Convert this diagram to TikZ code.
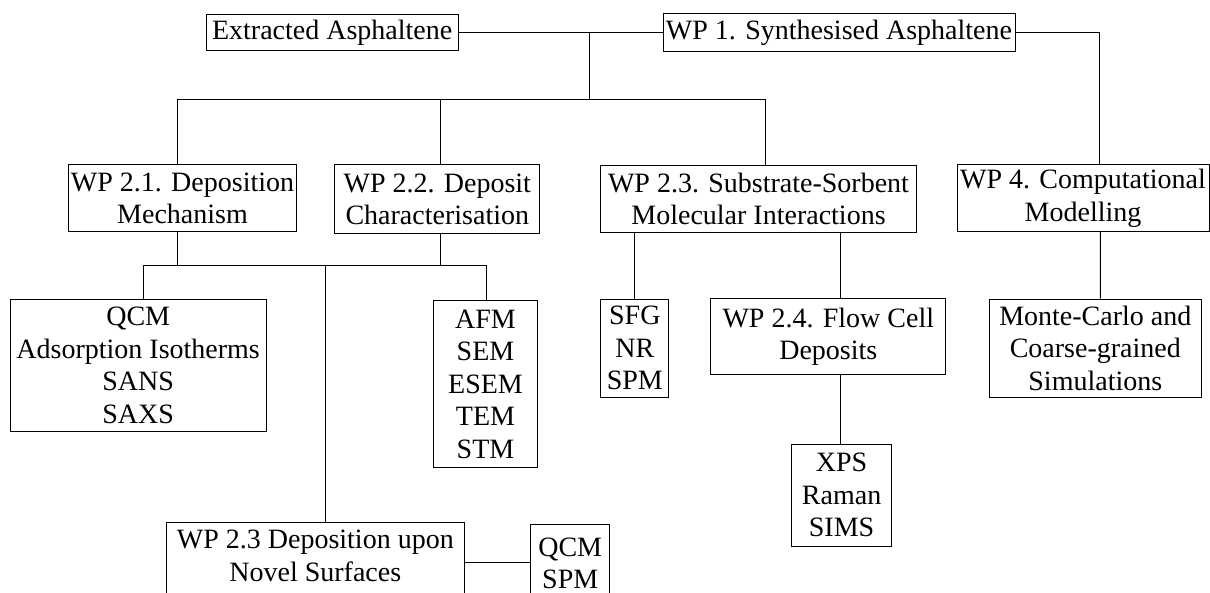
\documentclass[tikz,border=0pt]{standalone}
\usepackage{fontspec}
\setmainfont{Liberation Serif}
\begin{document}
\begin{tikzpicture}[x=1pt,y=-1pt,
  txt/.style={inner sep=0pt, align=center, font=\fontsize{28}{32.5}\selectfont},
  box/.style={txt, draw=black, line width=1pt},
  link/.style={draw=black, line width=1pt}]
\useasboundingbox (0,0) rectangle (1210,593);
\clip (0,0) rectangle (1210,593);
% nodes
\node[box, minimum width=251.6, minimum height=36] (ext) at (332.2,33) {Extracted Asphaltene};
\node[box, minimum width=352, minimum height=38.4] (wp1) at (839,32.5) {WP 1. Synthesised Asphaltene};
\node[box, minimum width=228.4, minimum height=67] (wp21) at (182.5,198.5) {WP 2.1. Deposition\\Mechanism};
\node[box, minimum width=204.7, minimum height=69] (wp22) at (437.3,199.5) {WP 2.2. Deposit\\Characterisation};
\node[box, minimum width=315.6, minimum height=67.3] (wp23s) at (758.5,198.7) {WP 2.3. Substrate-Sorbent\\Molecular Interactions};
\node[box, minimum width=252, minimum height=66.7] (wp4) at (1083,198.3) {WP 4. Computational\\Modelling};
\node[box, minimum width=255.6, minimum height=131] (qcm1) at (138.2,365.5) {QCM\\Adsorption Isotherms\\SANS\\SAXS};
\node[box, minimum width=103.8, minimum height=166.7] (afm) at (485.5,384.3) {AFM\\SEM\\ESEM\\TEM\\STM};
\node[box, minimum width=67.7, minimum height=98] (sfg) at (634.8,348.3) {SFG\\NR\\SPM};
\node[box, minimum width=234.7, minimum height=76] (wp24) at (828.3,337) {WP 2.4. Flow Cell\\Deposits};
\node[box, minimum width=100.7, minimum height=102] (xps) at (841.6,495) {XPS\\Raman\\SIMS};
\node[box, minimum width=211.4, minimum height=98.3] (mc) at (1095.3,348.2) {Monte-Carlo and\\Coarse-grained\\Simulations};
\node[txt, minimum width=297.3, minimum height=66] (wp23d) at (315.3,556) {WP 2.3 Deposition upon\\Novel Surfaces};
\draw[link] ([yshift=-15pt]wp23d.south west) -- (wp23d.north west) -- (wp23d.north east) -- ([yshift=-15pt]wp23d.south east);
\node[box, minimum width=78.5, minimum height=79] (qcm2) at (570.2,563.5) {QCM\\SPM};
% bend points
\coordinate (j1) at (589,33);
\coordinate (j2) at (589,99.3);
\coordinate (b21) at (177,99.3);
\coordinate (b22) at (440,99.3);
\coordinate (b23) at (765.5,99.3);
\coordinate (c4) at (1099.2,33);
\coordinate (d21) at (177,266);
\coordinate (d22) at (440,266);
\coordinate (dq) at (143,266);
\coordinate (dd) at (325,266);
\coordinate (da) at (486.5,266);
% connectors
\draw[link] (ext.east) -- (wp1.west |- ext.east);
\draw[link] (j1) -- (j2);
\draw[link] (b21) -- (b23);
\draw[link] (b21) -- (b21 |- wp21.north);
\draw[link] (b22) -- (b22 |- wp22.north);
\draw[link] (b23) -- (b23 |- wp23s.north);
\draw[link] (wp1.east |- c4) -- (c4) -- (c4 |- wp4.north);
\draw[link] (d21 |- wp21.south) -- (d21);
\draw[link] (d22 |- wp22.south) -- (d22);
\draw[link] (dq) -- (da);
\draw[link] (dq) -- (dq |- qcm1.north);
\draw[link] (dd) -- (dd |- wp23d.north);
\draw[link] (da) -- (da |- afm.north);
\draw[link] (sfg.north |- wp23s.south) -- (sfg.north);
\draw[link] ([xshift=81.5pt]wp23s.south) -- ([xshift=11.7pt]wp24.north);
\draw[link] ([xshift=11.7pt]wp24.south) -- ([xshift=-1.6pt]xps.north);
\draw[link] ([xshift=17.4pt]wp4.south) -- ([xshift=5.1pt]mc.north);
\draw[link] (wp23d.east |- 0,562) -- (qcm2.west |- 0,562);
\end{tikzpicture}
\end{document}
